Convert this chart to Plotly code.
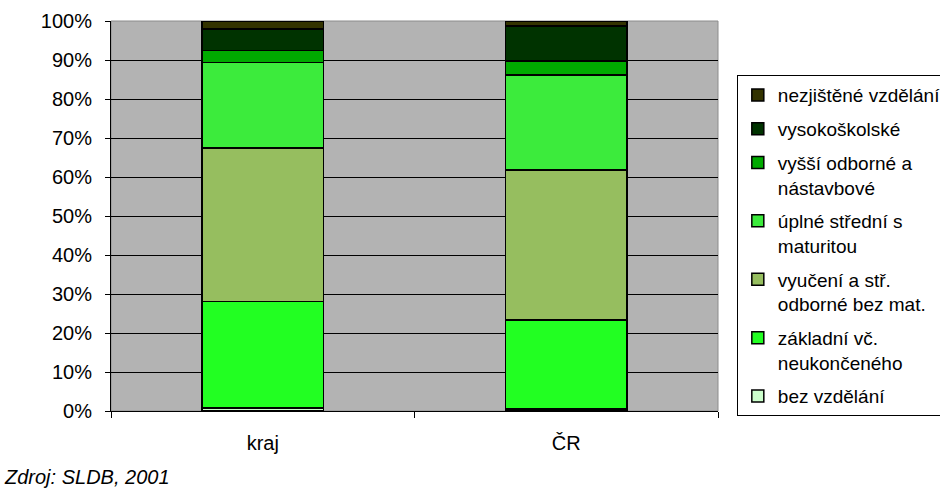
import plotly.graph_objects as go

categories = ["kraj", "ČR"]
series_names = [
    "bez vzdělání",
    "základní vč.<br>neukončeného",
    "vyučení a stř.<br>odborné bez mat.",
    "úplné střední s<br>maturitou",
    "vyšší odborné a<br>nástavbové",
    "vysokoškolské",
    "nezjištěné vzdělání",
]
bez_vzdelani = [0.8, 0.5]
zakladni = [27.3, 22.8]
vyuceni = [39.3, 38.5]
uplne_stredni = [22.0, 24.3]
vyssi_odborne = [3.1, 3.6]
vysokoskolske = [5.4, 9.0]
nezjistene = [2.1, 1.3]
series_values = [bez_vzdelani, zakladni, vyuceni, uplne_stredni,
                 vyssi_odborne, vysokoskolske, nezjistene]
colors = ["#CCFFCC", "#22FF22", "#96BE5F", "#3CEB3C", "#00AA00", "#003300", "#333300"]
y_ticks = [0, 10, 20, 30, 40, 50, 60, 70, 80, 90, 100]
y_tick_text = [f"{v}%" for v in y_ticks]

FONT = "Liberation Sans, Arial, sans-serif"
FS = 20
LEG_FS = 19

fig = go.Figure()
for i, (name, vals, col) in enumerate(zip(series_names, series_values, colors)):
    fig.add_trace(go.Bar(
        x=categories, y=vals, name=name, legendgroup=f"g{i}", legendrank=90 - i * 10,
        marker=dict(color=col, line=dict(color="black", width=1.5)),
        width=0.4,
    ))

fig.update_layout(
    barmode="stack",
    width=940, height=489,
    margin=dict(l=111, r=222, t=21, b=78, autoexpand=False),
    paper_bgcolor="white",
    plot_bgcolor="#B3B3B3",
    font=dict(family=FONT, size=FS, color="black"),
    showlegend=True,
    legend=dict(
        x=1.031, xanchor="left", y=0.861, yanchor="top",
        traceorder="grouped", tracegroupgap=6,
        bordercolor="black", borderwidth=1, bgcolor="white",
        font=dict(family=FONT, size=LEG_FS, color="black"),
        valign="top", entrywidth=215, entrywidthmode="pixels",
        maxheight=450,
    ),
    shapes=[dict(type="rect", xref="paper", yref="paper", x0=0, x1=1, y0=0, y1=1,
                 line=dict(color="#8C8C8C", width=1), layer="below")],
    annotations=[dict(text="<i>Zdroj: SLDB, 2001</i>", xref="paper", yref="paper",
                      x=-0.180, y=-0.170, xanchor="left", yanchor="middle",
                      showarrow=False, font=dict(family=FONT, size=FS, color="black"))],
)
fig.update_yaxes(
    range=[0, 100], tickvals=y_ticks, ticktext=y_tick_text,
    showgrid=True, gridcolor="black", gridwidth=1,
    showline=True, linecolor="black", linewidth=1,
    ticks="outside", ticklen=5, tickcolor="black",
    ticklabelstandoff=9, zeroline=False,
)
fig.update_xaxes(
    showline=True, linecolor="black", linewidth=1,
    ticks="outside", ticklen=6, tickcolor="black", tickson="boundaries",
    ticklabelstandoff=14, showgrid=False,
)
fig.write_html("out.html", config={"displayModeBar": False},
               post_script="document.body.style.margin='0px';")
